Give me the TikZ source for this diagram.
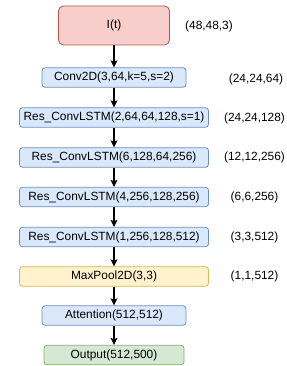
\documentclass[tikz,border=0pt]{standalone}
\usepackage{fontspec}
\setmainfont{Liberation Sans}
\usetikzlibrary{arrows.meta}
\definecolor{bluefill}{HTML}{DAE8FC}
\definecolor{blueline}{HTML}{6C8EBF}
\definecolor{redfill}{HTML}{F8CECC}
\definecolor{redline}{HTML}{B85450}
\definecolor{yellowfill}{HTML}{FFF2CC}
\definecolor{yellowline}{HTML}{D6B656}
\definecolor{greenfill}{HTML}{D5E8D4}
\definecolor{greenline}{HTML}{82B366}

\begin{document}
\begin{tikzpicture}[x=1pt,y=1pt,
  every node/.style={font=\fontsize{11.9}{13}\selectfont},
  layer/.style={draw=blueline,fill=bluefill,line width=0.8pt,rounded corners=3pt,
    minimum height=19.5pt,inner sep=0pt},
  flow/.style={line width=1.1pt,-{Stealth[length=7pt,width=7pt,inset=1.5pt]}}]
  \useasboundingbox (0,0) rectangle (286,-366);
  % layers
  \node[layer,draw=redline,fill=redfill,minimum width=111pt,minimum height=39pt,rounded corners=5pt] (in) at (114,-25.5) {I(t)};
  \node[layer,minimum width=144pt] (conv) at (114,-77.5) {Conv2D(3,64,k=5,s=2)};
  \node[layer,minimum width=189pt] (res1) at (114,-117.5) {Res\_ConvLSTM(2,64,64,128,s=1)};
  \node[layer,minimum width=189pt] (res2) at (114,-157.5) {Res\_ConvLSTM(6,128,64,256)};
  \node[layer,minimum width=189pt] (res3) at (114,-197) {Res\_ConvLSTM(4,256,128,256)};
  \node[layer,minimum width=189pt] (res4) at (114,-237) {Res\_ConvLSTM(1,256,128,512)};
  \node[layer,draw=yellowline,fill=yellowfill,minimum width=189pt] (pool) at (114,-276.5) {MaxPool2D(3,3)};
  \node[layer,minimum width=144pt] (att) at (114,-315.5) {Attention(512,512)};
  \node[layer,draw=greenline,fill=greenfill,minimum width=140pt] (out) at (114,-355) {Output(512,500)};
  \foreach \a/\b in {in/conv,conv/res1,res1/res2,res2/res3,res3/res4,res4/pool,pool/att,att/out}{\draw[flow] (\a) -- (\b);}
  % output shapes
  \node (sin) at (209,-26) {(48,48,3)};
  \foreach \n/\x/\y/\t in {conv/256/-79/{(24,24,64)},res1/254.5/-118/{(24,24,128)},res2/254.5/-157.5/{(12,12,256)},
    res3/254.5/-197/{(6,6,256)},res4/254.5/-237/{(3,3,512)},pool/254.5/-276.5/{(1,1,512)}}{
    \node (s\n) at (\x,\y) {\t};}
\end{tikzpicture}
\end{document}
